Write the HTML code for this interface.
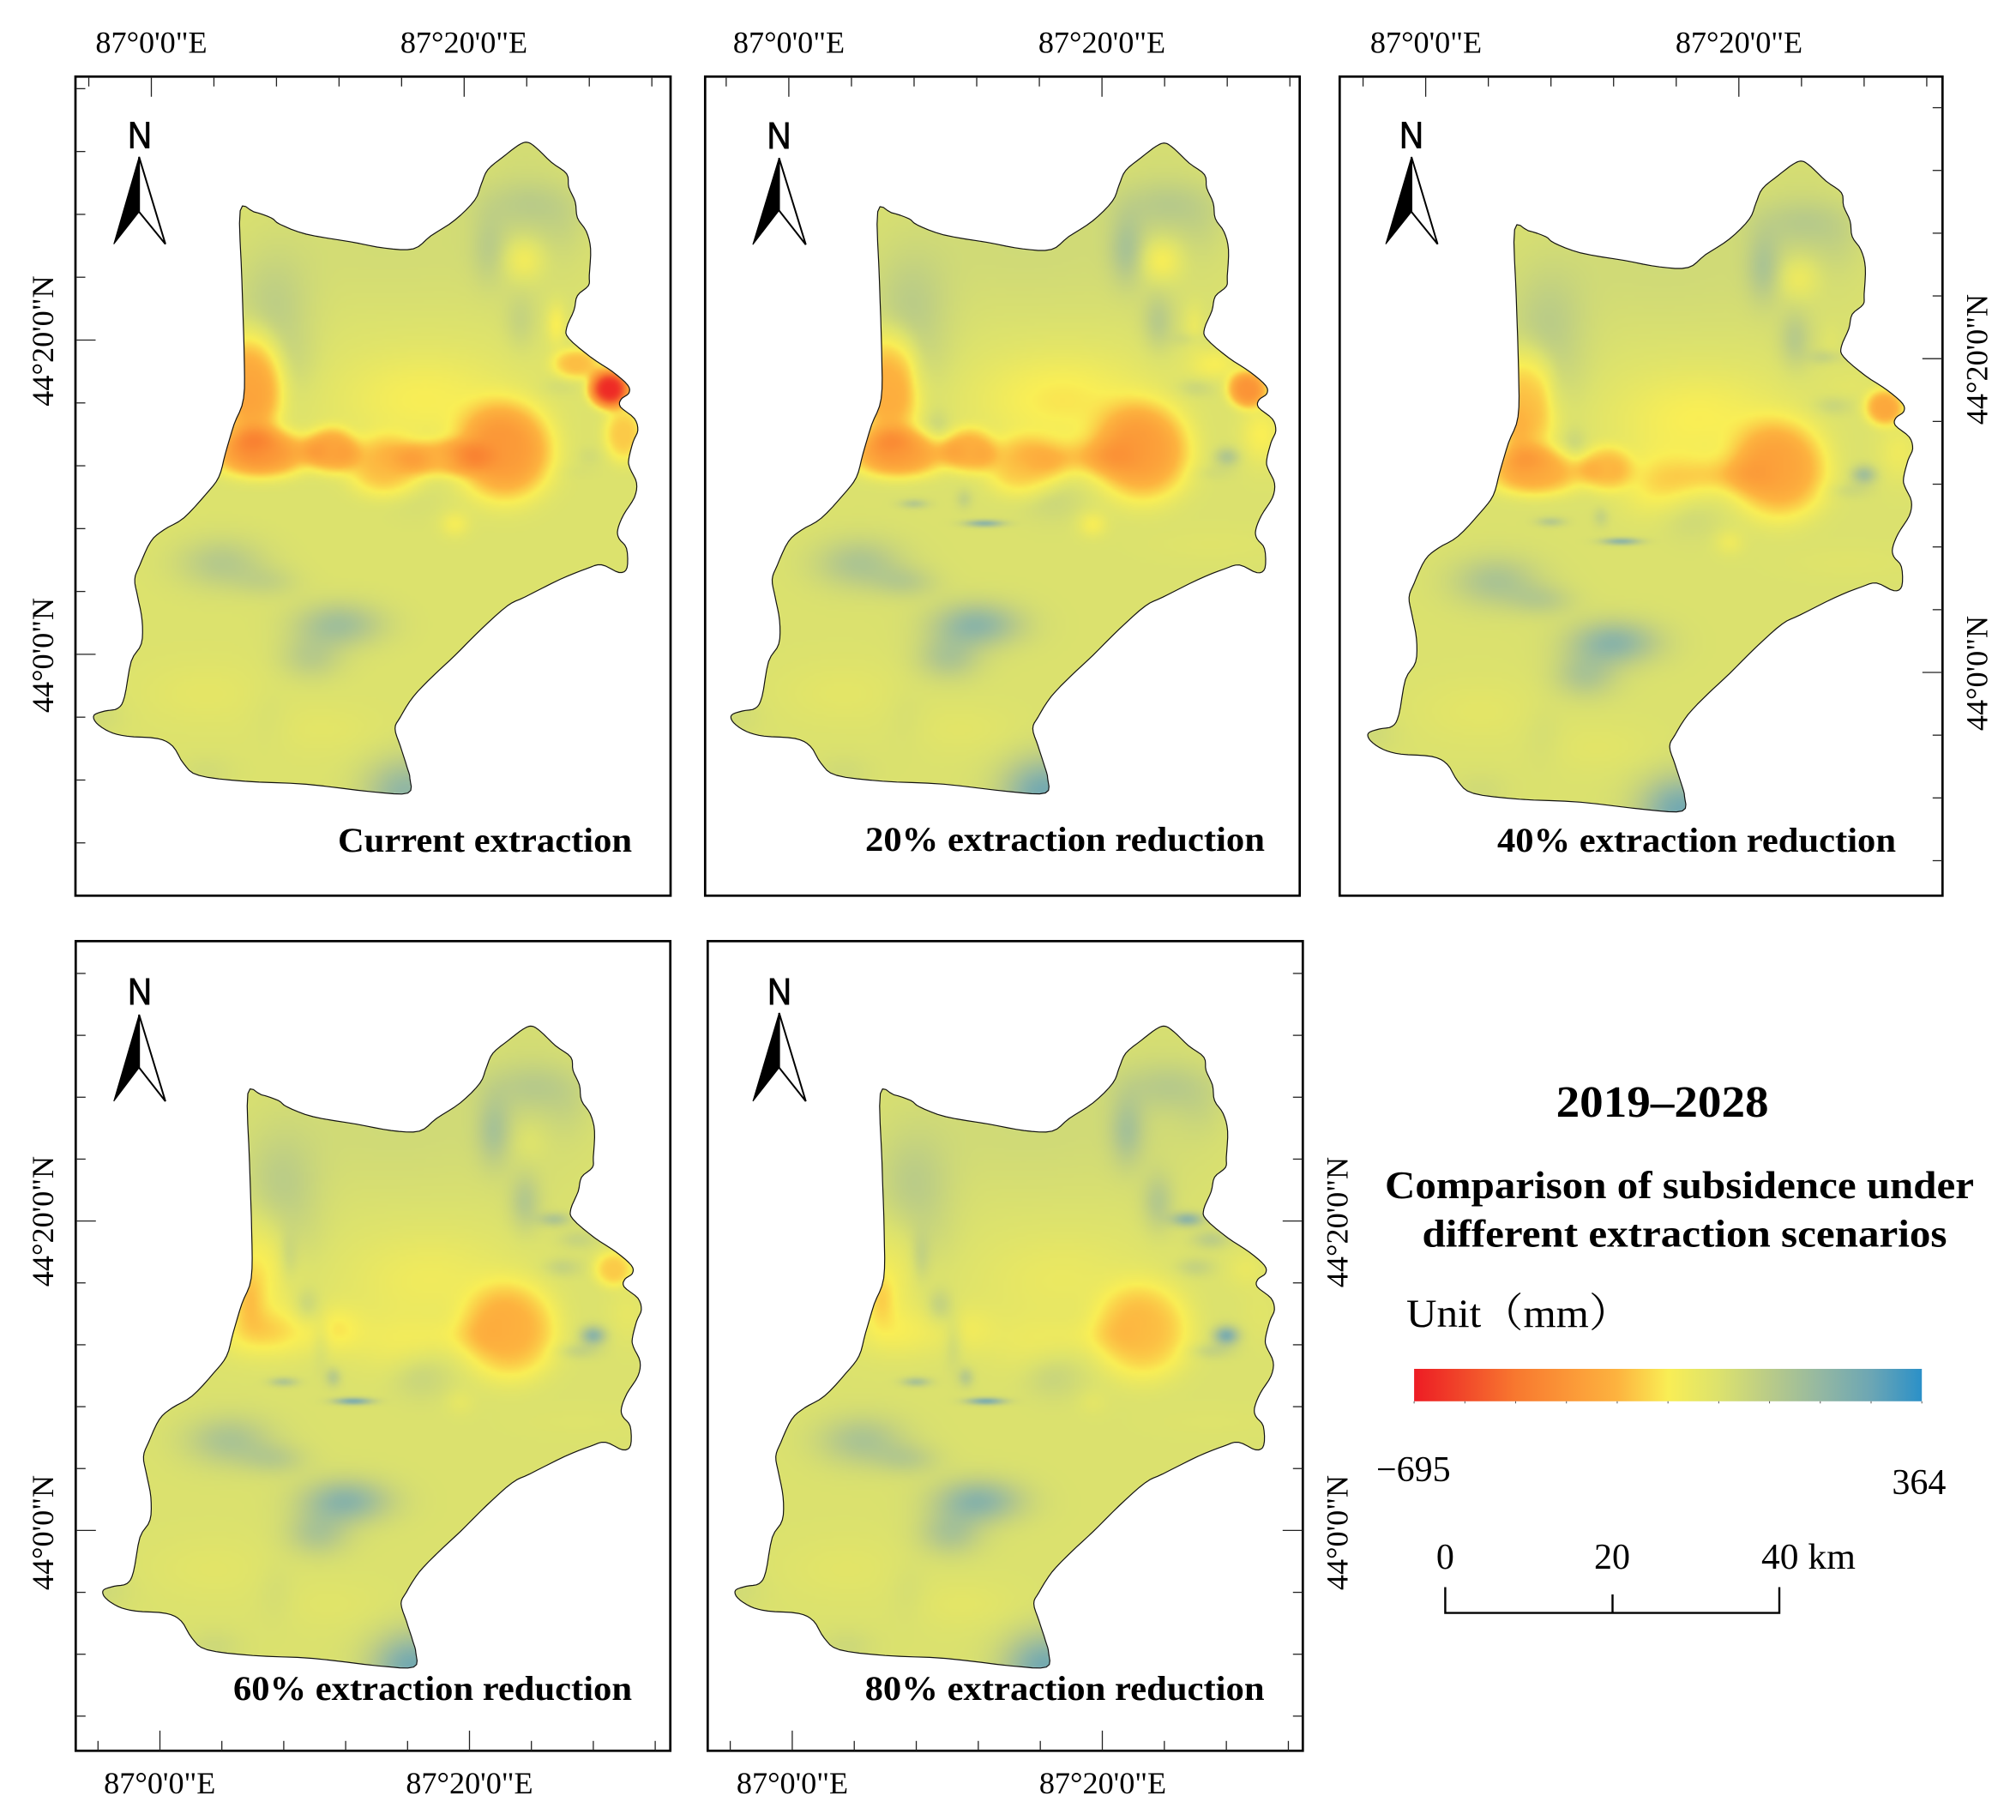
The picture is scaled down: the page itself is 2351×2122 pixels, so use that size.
<!DOCTYPE html>
<html lang="en">
<head>
<meta charset="utf-8">
<title>Comparison of subsidence under different extraction scenarios</title>
<style>
  html, body { margin: 0; padding: 0; background: #fff; }
  #stage { position: relative; width: 2351px; height: 2122px; overflow: hidden; background: #fff; }
  #field-canvas, #overlay { position: absolute; left: 0; top: 0; }
  text { font-family: "Liberation Serif", "Noto Serif CJK SC", serif; fill: #000; }
  .deg { font-size: 36.2px; }
  .ttl { font-size: 40px; font-weight: bold; }
  .hd { font-weight: bold; }
  .nlet { font-family: "Liberation Sans", sans-serif; font-size: 44px; stroke: #000; stroke-width: 0.9px; }
</style>
</head>
<body>
<div id="stage">
<canvas id="field-canvas" width="2351" height="2122"></canvas>
<svg id="overlay" width="2351" height="2122" viewBox="0 0 2351 2122" xmlns="http://www.w3.org/2000/svg">
  <g id="dynamic"></g>

  <g>
    <text class="deg" x="176.5" y="61.4" text-anchor="middle">87°0'0"E</text>
    <text class="deg" x="541" y="61.4" text-anchor="middle">87°20'0"E</text>
    <text class="deg" x="920" y="61.4" text-anchor="middle">87°0'0"E</text>
    <text class="deg" x="1285" y="61.4" text-anchor="middle">87°20'0"E</text>
    <text class="deg" x="1663" y="61.4" text-anchor="middle">87°0'0"E</text>
    <text class="deg" x="2028" y="61.4" text-anchor="middle">87°20'0"E</text>
    <text class="deg" x="186.3" y="2091" text-anchor="middle">87°0'0"E</text>
    <text class="deg" x="547.5" y="2091" text-anchor="middle">87°20'0"E</text>
    <text class="deg" x="924" y="2091" text-anchor="middle">87°0'0"E</text>
    <text class="deg" x="1286" y="2091" text-anchor="middle">87°20'0"E</text>
  </g>

  <g>
    <text class="deg" transform="translate(62 397.5) rotate(-90)" text-anchor="middle">44°20'0"N</text>
    <text class="deg" transform="translate(62 764) rotate(-90)" text-anchor="middle">44°0'0"N</text>
    <text class="deg" transform="translate(2317.4 419) rotate(-90)" text-anchor="middle">44°20'0"N</text>
    <text class="deg" transform="translate(2317.4 785) rotate(-90)" text-anchor="middle">44°0'0"N</text>
    <text class="deg" transform="translate(62 1424) rotate(-90)" text-anchor="middle">44°20'0"N</text>
    <text class="deg" transform="translate(62 1787) rotate(-90)" text-anchor="middle">44°0'0"N</text>
    <text class="deg" transform="translate(1571.7 1425) rotate(-90)" text-anchor="middle">44°20'0"N</text>
    <text class="deg" transform="translate(1571.7 1787) rotate(-90)" text-anchor="middle">44°0'0"N</text>
  </g>

  <g>
    <text class="ttl" x="394" y="993" textLength="343" lengthAdjust="spacingAndGlyphs">Current extraction</text>
    <text class="ttl" x="1009" y="992" textLength="466" lengthAdjust="spacingAndGlyphs">20% extraction reduction</text>
    <text class="ttl" x="1746" y="993" textLength="465" lengthAdjust="spacingAndGlyphs">40% extraction reduction</text>
    <text class="ttl" x="272" y="1982" textLength="465" lengthAdjust="spacingAndGlyphs">60% extraction reduction</text>
    <text class="ttl" x="1008.6" y="1982" textLength="466" lengthAdjust="spacingAndGlyphs">80% extraction reduction</text>
  </g>

  <g>
    <text class="nlet" x="149" y="172.6" textLength="28" lengthAdjust="spacingAndGlyphs">N</text>
    <path d="M162.2 182.9 L132.7 284.6 L162.2 247 Z" fill="#000" stroke="#000" stroke-width="1"/>
    <path d="M162.2 182.9 L192.9 284.6 L162.2 247 Z" fill="#fff" stroke="#000" stroke-width="2"/>
  </g>
  <g>
    <text class="nlet" x="894.5" y="172.8" textLength="28" lengthAdjust="spacingAndGlyphs">N</text>
    <path d="M908.5 184.2 L877.9 285.2 L908.5 245.4 Z" fill="#000" stroke="#000" stroke-width="1"/>
    <path d="M908.5 184.2 L939.7 285.2 L908.5 245.4 Z" fill="#fff" stroke="#000" stroke-width="2"/>
  </g>
  <g>
    <text class="nlet" x="1632" y="172.6" textLength="28" lengthAdjust="spacingAndGlyphs">N</text>
    <path d="M1646 183 L1616 284.6 L1646 247 Z" fill="#000" stroke="#000" stroke-width="1"/>
    <path d="M1646 183 L1676.5 284.6 L1646 247 Z" fill="#fff" stroke="#000" stroke-width="2"/>
  </g>
  <g>
    <text class="nlet" x="149" y="1171" textLength="28" lengthAdjust="spacingAndGlyphs">N</text>
    <path d="M162.2 1183 L132.7 1284 L162.2 1244.8 Z" fill="#000" stroke="#000" stroke-width="1"/>
    <path d="M162.2 1183 L192.9 1284 L162.2 1244.8 Z" fill="#fff" stroke="#000" stroke-width="2"/>
  </g>
  <g>
    <text class="nlet" x="895" y="1171" textLength="28" lengthAdjust="spacingAndGlyphs">N</text>
    <path d="M908.6 1181 L878 1284 L908.6 1244.8 Z" fill="#000" stroke="#000" stroke-width="1"/>
    <path d="M908.6 1181 L939.7 1284 L908.6 1244.8 Z" fill="#fff" stroke="#000" stroke-width="2"/>
  </g>

  <g>
    <text class="hd" x="1814.6" y="1301.9" font-size="52" textLength="248" lengthAdjust="spacingAndGlyphs">2019–2028</text>
    <text class="hd" x="1615" y="1397" font-size="46" textLength="687" lengthAdjust="spacingAndGlyphs">Comparison of subsidence under</text>
    <text class="hd" x="1658.5" y="1453.5" font-size="46" textLength="612" lengthAdjust="spacingAndGlyphs">different extraction scenarios</text>
    <text x="1640" y="1546.8" font-size="47" textLength="262" lengthAdjust="spacingAndGlyphs">Unit（mm）</text>
    <defs>
      <linearGradient id="legend-gradient" x1="0" y1="0" x2="1" y2="0">
        <stop offset="0" stop-color="#ed1c24"/>
        <stop offset="0.1" stop-color="#f1492a"/>
        <stop offset="0.2" stop-color="#f8782f"/>
        <stop offset="0.3" stop-color="#fb9637"/>
        <stop offset="0.4" stop-color="#fdb33f"/>
        <stop offset="0.5" stop-color="#f9ee55"/>
        <stop offset="0.6" stop-color="#dce26d"/>
        <stop offset="0.7" stop-color="#b9cb88"/>
        <stop offset="0.8" stop-color="#94b8a2"/>
        <stop offset="0.9" stop-color="#6ca6b4"/>
        <stop offset="1" stop-color="#2b90c8"/>
      </linearGradient>
    </defs>
    <rect x="1649.1" y="1596" width="592.1" height="37.8" fill="url(#legend-gradient)"/>
    <g id="colorbar-ticks"></g>
    <text x="1605" y="1727" font-size="42">−695</text>
    <text x="2206.4" y="1742" font-size="42">364</text>
    <text x="1685.4" y="1829" font-size="42" text-anchor="middle">0</text>
    <text x="1880" y="1829" font-size="42" text-anchor="middle">20</text>
    <text x="2054" y="1829" font-size="42" textLength="110" lengthAdjust="spacingAndGlyphs">40 km</text>
    <path d="M1685.4 1850.5 V1880.6 H2075 V1850.5 M1880.5 1859 V1880.6" fill="none" stroke="#000" stroke-width="2.4"/>
  </g>
</svg>
</div>

<script>
// ---- Region outline, arc-minutes east of 87°0' and north of 44°0' ----
const outlineLon = [5.68,6.55,7.66,8.22,9.90,12.70,14.94,16.76,17.87,19.41,20.67,21.09,21.51,22.49,23.47,24.03,24.59,25.57,26.55,26.69,27.10,27.24,27.80,28.08,28.00,27.94,27.24,27.02,26.55,26.69,28.08,29.48,30.46,30.52,30.04,29.99,30.88,31.10,30.80,30.52,30.60,31.02,30.88,30.18,29.82,29.90,30.38,30.41,29.90,28.78,27.80,26.13,23.89,22.77,21.09,19.41,18.01,16.76,15.92,15.58,15.92,16.34,16.53,16.39,14.10,9.90,5.99,3.05,2.07,1.37,0.39,-1.57,-2.69,-3.52,-3.66,-2.97,-2.13,-1.71,-1.29,-0.64,-0.59,-0.87,-1.06,-0.73,-0.03,0.81,2.07,3.47,4.31,4.73,5.29,5.90,5.93,5.79];
const outlineLat = [28.23,28.16,27.78,27.37,26.74,26.26,25.85,25.81,26.63,27.64,28.90,29.91,30.84,31.66,32.40,32.59,32.25,31.32,30.58,29.72,28.79,27.78,26.93,25.81,24.13,23.46,22.83,21.90,20.78,20.11,18.92,17.99,17.13,16.61,16.24,15.75,15.01,14.26,13.52,12.40,11.84,10.91,9.98,8.86,7.93,7.37,6.74,5.51,5.21,5.70,5.44,4.77,3.65,3.09,1.60,-0.07,-1.38,-2.68,-3.99,-4.73,-5.85,-7.15,-7.90,-8.83,-8.75,-8.27,-8.08,-7.71,-6.96,-5.85,-5.36,-5.21,-4.92,-4.36,-3.87,-3.61,-3.43,-2.68,-0.45,0.67,2.16,3.65,4.77,5.70,7.19,7.93,8.68,10.17,11.28,12.77,14.64,16.31,19.29,23.76];

// ---- Graticule ticks (arc-minutes) ----
const lonTicks = [-4,0,4,8,12,16,20,24,28,32];
const latTicks = [36,32,28,24,20,16,12,8,4,0,-4,-8,-12];
const majorTicks = [0,20];

// ---- Colour bar ----
const valueMin = -695;
const valueMax = 364;
const colorStops = [0,0.1,0.2,0.3,0.4,0.5,0.6,0.7,0.8,0.9,1];
const colorReds = [237,241,248,251,253,249,220,185,148,108,43];
const colorGreens = [28,73,120,150,179,238,226,203,184,166,144];
const colorBlues = [36,42,47,55,63,85,109,136,162,180,200];
const colorbarTicks = [0,0.1,0.2,0.3,0.4,0.5,0.6,0.7,0.8,0.9,1];

// ---- Subsidence field: background level (mm) per scenario ----
const scenarioNames = ["current","20pct","40pct","60pct","80pct"];
const backgroundMm = [-60,-56,-56,-56,-56];

// ---- Field anomalies: centre and spread in arc-minutes ----
const anomalyLon = [7.8,9.3,24.2,21.6,23.6,26.3,23.8,25.5,27,17.5,22.6,6.4,7,5.7,11.5,15,18.7,29.3,27.2,25.9,30.2,26,28,27,9.5,8.3,11.2,8,12.5,10.4,16.8,4.5,7.5,12,10.2,16.3,3.5,11,-3.6,3.5,15,24,27,24,7.5,19.4];
const anomalyLat = [22,18.5,28.7,25.8,21.2,27,25.1,20.1,18.8,16.2,12.9,17,12.8,15,13,12,12.5,16.9,18.5,21,14,17,12.6,11.6,14.5,17.6,9.9,9.6,8.35,12.3,9.9,5.8,4.6,1.9,-0.2,-8.8,-2.5,-4.8,-3.9,-7.5,26,32,7,26.5,-4,8.3];
const anomalySpreadLon = [2.4,1.5,3.2,1.1,1,1.5,1.3,1,1.2,5.5,3.2,2.1,3.3,1,1.7,2.6,2.8,1.3,1.6,0.6,1.3,1.2,0.8,1.4,0.8,0.6,0.5,0.9,1.2,0.6,1.9,2.8,2,2.8,2,2.6,4,3.5,1.8,1.8,9,3.5,4,3.8,1.3,0.9];
const anomalySpreadLat = [3.6,2.2,1.6,2.2,1.8,1.8,1.3,0.45,0.6,3,3.2,3.6,1.6,1.8,1.5,2,1.2,1.2,1,1.3,1.8,0.6,0.6,0.5,1.1,1.6,0.6,0.3,0.22,1.7,1.4,1.6,1,1.4,1.4,2.2,2,1.5,1.2,1.1,4,2,1,4.5,2,0.8];

// ---- Anomaly amplitude (mm), one series per scenario ----
const amplitudeCurrent = [85,30,75,70,60,30,-110,0,0,-100,-290,-270,-300,0,-240,-190,-170,-600,-190,-110,-170,30,30,15,0,0,0,0,0,0,20,115,60,170,100,220,-30,-25,35,30,30,20,0,25,20,-90];
const amplitude20pct = [90,15,85,120,100,30,-125,40,0,-125,-270,-240,-280,0,-210,-170,-140,-320,-100,-60,-110,60,130,30,60,30,70,110,230,0,50,135,85,220,130,290,-30,-25,30,30,35,15,-15,15,20,-100];
const amplitude40pct = [90,15,85,110,100,30,-90,70,10,-110,-250,-200,-235,-40,-170,-130,-110,-250,-30,-20,-70,60,170,45,60,30,70,110,230,0,50,140,85,225,130,290,-30,-25,35,30,35,15,-15,15,25,-70];
const amplitude60pct = [95,15,85,120,110,30,-35,130,60,-75,-215,-120,-135,-100,-90,-60,-50,-170,0,0,-40,70,230,70,80,60,110,130,280,60,60,140,85,230,130,290,-25,-20,35,40,35,15,-10,15,25,-40];
const amplitude80pct = [95,15,85,125,110,30,0,220,90,-55,-190,-70,-80,-110,-55,-45,-40,-50,0,0,-20,70,270,70,90,70,110,150,280,70,60,140,85,230,135,290,-25,-30,30,40,35,10,-10,15,25,-30];
const scenarioAmplitudes = [amplitudeCurrent,amplitude20pct,amplitude40pct,amplitude60pct,amplitude80pct];

// ---- Page layout (not data) ----
const panels = [
  {left:88,right:782,top:89.3,bottom:1044.3,ox:176.5,oy:762.9,sx:18.24,sy:18.32,sides:["top","left"]},
  {left:822.3,right:1515.7,top:89.3,bottom:1044.3,ox:919.9,oy:763,sx:18.26,sy:18.29,sides:["top"]},
  {left:1562.3,right:2265.3,top:89.3,bottom:1044.3,ox:1662.6,oy:784,sx:18.26,sy:18.29,sides:["top","right"]},
  {left:88.3,right:781.7,top:1097.3,bottom:2041.3,ox:186.5,oy:1784.4,sx:18.05,sy:18.04,sides:["bottom","left"]},
  {left:825.3,right:1519.3,top:1097.3,bottom:2041.3,ox:923.9,oy:1784.4,sx:18.08,sy:18.04,sides:["bottom","right"]}
];
const GRID_STEP = 3;
const SVGNS = "http://www.w3.org/2000/svg";
const dynamicLayer = document.getElementById("dynamic");

function xScale(panel, lon) { return panel.ox + lon * panel.sx; }
function yScale(panel, lat) { return panel.oy - lat * panel.sy; }
function valueToRatio(v) { return Math.max(0, Math.min(1, (v - valueMin) / (valueMax - valueMin))); }
function ratioToRgb(t) {
  let i = 0;
  while (i < colorStops.length - 2 && t > colorStops[i + 1]) i++;
  const f = (t - colorStops[i]) / (colorStops[i + 1] - colorStops[i]);
  return [
    colorReds[i] + (colorReds[i + 1] - colorReds[i]) * f,
    colorGreens[i] + (colorGreens[i + 1] - colorGreens[i]) * f,
    colorBlues[i] + (colorBlues[i + 1] - colorBlues[i]) * f
  ];
}
function fieldValue(lon, lat, background, amps) {
  let v = background;
  for (let k = 0; k < amps.length; k++) {
    if (amps[k] === 0) continue;
    const dx = (lon - anomalyLon[k]) / anomalySpreadLon[k];
    const dy = (lat - anomalyLat[k]) / anomalySpreadLat[k];
    const rr = dx * dx + dy * dy;
    if (rr > 14) continue;
    v += amps[k] * (amps[k] < -150 ? Math.exp(-Math.pow(rr, 1.7)) : Math.exp(-rr));
  }
  return v;
}
// Smooth the digitised outline with a Catmull-Rom spline
function outlinePoints(panel) {
  const n = outlineLon.length;
  const pts = [];
  for (let i = 0; i < n; i++) {
    const a = (i - 1 + n) % n, b = i, c = (i + 1) % n, d = (i + 2) % n;
    for (let s = 0; s < 4; s++) {
      const u = s / 4, u2 = u * u, u3 = u2 * u;
      const lon = 0.5 * (2 * outlineLon[b] + (outlineLon[c] - outlineLon[a]) * u + (2 * outlineLon[a] - 5 * outlineLon[b] + 4 * outlineLon[c] - outlineLon[d]) * u2 + (3 * outlineLon[b] - outlineLon[a] - 3 * outlineLon[c] + outlineLon[d]) * u3);
      const lat = 0.5 * (2 * outlineLat[b] + (outlineLat[c] - outlineLat[a]) * u + (2 * outlineLat[a] - 5 * outlineLat[b] + 4 * outlineLat[c] - outlineLat[d]) * u2 + (3 * outlineLat[b] - outlineLat[a] - 3 * outlineLat[c] + outlineLat[d]) * u3);
      pts.push([xScale(panel, lon), yScale(panel, lat)]);
    }
  }
  return pts;
}

const ctx = document.getElementById("field-canvas").getContext("2d");
panels.forEach(function (panel, p) {
  const w = Math.ceil((panel.right - panel.left) / GRID_STEP);
  const h = Math.ceil((panel.bottom - panel.top) / GRID_STEP);
  const grid = document.createElement("canvas");
  grid.width = w;
  grid.height = h;
  const gctx = grid.getContext("2d");
  const image = gctx.createImageData(w, h);
  for (let row = 0; row < h; row++) {
    const lat = (panel.oy - (panel.top + (row + 0.5) * GRID_STEP)) / panel.sy;
    for (let col = 0; col < w; col++) {
      const lon = (panel.left + (col + 0.5) * GRID_STEP - panel.ox) / panel.sx;
      const rgb = ratioToRgb(valueToRatio(fieldValue(lon, lat, backgroundMm[p], scenarioAmplitudes[p])));
      const o = (row * w + col) * 4;
      image.data[o] = rgb[0];
      image.data[o + 1] = rgb[1];
      image.data[o + 2] = rgb[2];
      image.data[o + 3] = 255;
    }
  }
  gctx.putImageData(image, 0, 0);
  const pts = outlinePoints(panel);
  ctx.save();
  ctx.beginPath();
  pts.forEach(function (pt, i) { if (i) ctx.lineTo(pt[0], pt[1]); else ctx.moveTo(pt[0], pt[1]); });
  ctx.closePath();
  ctx.clip();
  ctx.imageSmoothingEnabled = true;
  ctx.imageSmoothingQuality = "high";
  ctx.drawImage(grid, panel.left, panel.top, w * GRID_STEP, h * GRID_STEP);
  ctx.restore();

  const outline = document.createElementNS(SVGNS, "path");
  outline.setAttribute("d", "M" + pts.map(function (pt) { return pt[0].toFixed(1) + " " + pt[1].toFixed(1); }).join(" L") + " Z");
  outline.setAttribute("fill", "none");
  outline.setAttribute("stroke", "#111");
  outline.setAttribute("stroke-width", "1.2");
  outline.setAttribute("stroke-linejoin", "round");
  
  
  dynamicLayer.appendChild(outline);

  const frame = document.createElementNS(SVGNS, "rect");
  frame.setAttribute("x", panel.left);
  frame.setAttribute("y", panel.top);
  frame.setAttribute("width", panel.right - panel.left);
  frame.setAttribute("height", panel.bottom - panel.top);
  frame.setAttribute("fill", "none");
  frame.setAttribute("stroke", "#000");
  frame.setAttribute("stroke-width", "2.7");
  
  
  dynamicLayer.appendChild(frame);

  panel.sides.forEach(function (side) {
    const horizontal = side === "top" || side === "bottom";
    const values = horizontal ? lonTicks : latTicks;
    values.forEach(function (value) {
      const len = majorTicks.indexOf(value) >= 0 ? 23.5 : 11.5;
      const pos = horizontal ? xScale(panel, value) : yScale(panel, value);
      const tick = document.createElementNS(SVGNS, "line");
      if (horizontal) {
        const y0 = side === "top" ? panel.top : panel.bottom;
        const dir = side === "top" ? 1 : -1;
        tick.setAttribute("x1", pos);
        tick.setAttribute("x2", pos);
        tick.setAttribute("y1", y0);
        tick.setAttribute("y2", y0 + dir * len);
      } else {
        const x0 = side === "left" ? panel.left : panel.right;
        const dir = side === "left" ? 1 : -1;
        tick.setAttribute("y1", pos);
        tick.setAttribute("y2", pos);
        tick.setAttribute("x1", x0);
        tick.setAttribute("x2", x0 + dir * len);
      }
      tick.setAttribute("stroke", "#222");
      tick.setAttribute("stroke-width", "1.3");
      
      
      dynamicLayer.appendChild(tick);
    });
  });
});

const colorbarTickLayer = document.getElementById("colorbar-ticks");
colorbarTicks.forEach(function (ratio) {
  const x = 1649.1 + ratio * 592.1;
  const tick = document.createElementNS(SVGNS, "line");
  tick.setAttribute("x1", x);
  tick.setAttribute("x2", x);
  tick.setAttribute("y1", 1633.8);
  tick.setAttribute("y2", 1636.3);
  tick.setAttribute("stroke", "#555");
  tick.setAttribute("stroke-width", "1");
  
  
  colorbarTickLayer.appendChild(tick);
});
</script>
</body>
</html>
